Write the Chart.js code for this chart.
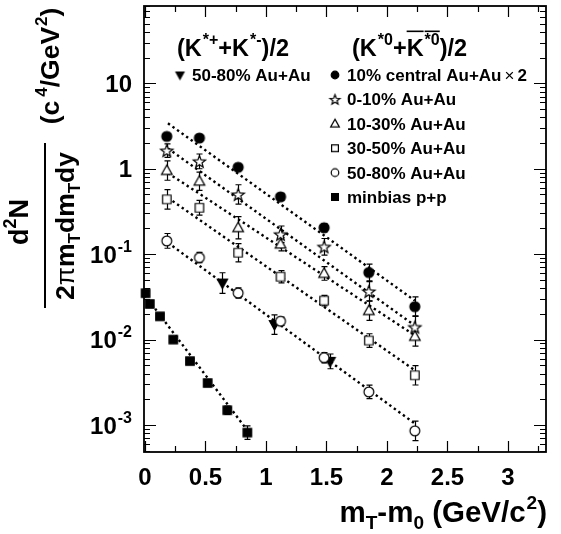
<!DOCTYPE html>
<html>
<head>
<meta charset="utf-8">
<script src="https://cdn.jsdelivr.net/npm/chart.js@4.4.0/dist/chart.umd.min.js"></script>
<style>
  html, body { margin: 0; padding: 0; background: #fff; }
  #wrap { width: 561px; height: 534px; position: relative; }
</style>
</head>
<body>
<div id="wrap"><canvas id="spectra"></canvas></div>
<script>
// m_T - m_0 bins (GeV/c^2) shared by the Au+Au K*0 points
const mtBins = [0.18, 0.45, 0.77, 1.12, 1.48, 1.85, 2.23];
const central2 = [2.39, 2.29, 1.04, 0.469, 0.204, 0.061, 0.0243];
const auau0_10 = [1.63, 1.22, 0.50, 0.171, 0.122, 0.0366, 0.0140];
const auau10_30 = [0.953, 0.715, 0.204, 0.131, 0.0594, 0.0218, 0.0109];
const auau30_50 = [0.438, 0.349, 0.104, 0.0544, 0.0286, 0.00975, 0.00382];
const auau50_80 = [0.143, 0.0912, 0.0351, 0.0164, 0.00614, 0.00244, 0.000855];
// charged K* (50-80%)
const chargedX = [0.64, 1.07, 1.53];
const charged50_80 = [0.0459, 0.0150, 0.00556];
// minbias p+p
const ppX = [0.005, 0.04, 0.124, 0.234, 0.372, 0.518, 0.68, 0.846];
const pp = [0.0349, 0.0261, 0.0187, 0.0100, 0.0056, 0.0031, 0.00149, 0.000815];

// error bars, as factors (bar runs from value/f to value*f)
const errCentral = [1.08, 1.08, 1.08, 1.1, 1.12, 1.25, 1.3];
const err0_10 = [1.2, 1.22, 1.3, 1.25, 1.25, 1.3, 1.35];
const err10_30 = [1.3, 1.28, 1.35, 1.2, 1.2, 1.3, 1.3];
const err30_50 = [1.3, 1.22, 1.28, 1.18, 1.15, 1.2, 1.3];
const err50_80 = [1.22, 1.15, 1.15, 1.12, 1.15, 1.2, 1.3];
const errCharged = [1.32, 1.3, 1.22];
const errPP = [1.06, 1.06, 1.06, 1.06, 1.06, 1.08, 1.12, 1.2];

// exponential fits (end points)
const fitX = [0.19, 2.23];
const fitCentral2 = [3.4, 0.0286];
const fit0_10 = [1.73, 0.0146];
const fit10_30 = [0.89, 0.0112];
const fit30_50 = [0.457, 0.00437];
const fit50_80 = [0.136, 0.00104];
const ppFitX = [0, 0.85];
const ppFit = [0.033, 0.00085];

const xTicks = [0, 0.5, 1, 1.5, 2, 2.5, 3];
const xTickLabels = ['0', '0.5', '1', '1.5', '2', '2.5', '3'];
const yTicks = [1e-3, 1e-2, 1e-1, 1, 10];
const yTickLabels = [['10', '-3'], ['10', '-2'], ['10', '-1'], ['1', ''], ['10', '']];

const FAM = '"Liberation Sans", Arial, Helvetica, sans-serif';

function marker(kind, r) {
  const s = Math.ceil(r * 2 + 4);
  const c = document.createElement('canvas');
  c.width = s; c.height = s;
  const g = c.getContext('2d');
  const m = s / 2;
  const filled = kind[0] === 'f';
  const shape = filled ? kind.slice(1) : kind;
  g.lineWidth = 1.2;
  g.strokeStyle = '#000';
  g.beginPath();
  if (shape === 'circle') {
    g.arc(m, m, r, 0, Math.PI * 2);
  } else if (shape === 'square') {
    g.rect(m - r * 0.85, m - r * 0.85, r * 1.7, r * 1.7);
  } else if (shape === 'tri') {
    g.moveTo(m, m - r);
    g.lineTo(m + r * 0.95, m + r * 0.7);
    g.lineTo(m - r * 0.95, m + r * 0.7);
    g.closePath();
  } else if (shape === 'tridown') {
    g.moveTo(m, m + r);
    g.lineTo(m + r * 0.95, m - r * 0.7);
    g.lineTo(m - r * 0.95, m - r * 0.7);
    g.closePath();
  } else if (shape === 'star') {
    for (let i = 0; i < 10; i++) {
      const a = -Math.PI / 2 + i * Math.PI / 5;
      const rr = i % 2 ? r * 0.42 : r;
      const px = m + rr * Math.cos(a), py = m + rr * Math.sin(a) + r * 0.1;
      if (i) g.lineTo(px, py); else g.moveTo(px, py);
    }
    g.closePath();
  }
  g.fillStyle = filled ? '#000' : '#fff';
  g.fill();
  g.stroke();
  return c;
}

function fontFor(mode, size) {
  if (mode === 'thin') return `${size}px ${FAM}`;
  const sz = (mode === 'sup' || mode === 'sub') ? Math.round(size * 0.66) : size;
  return `bold ${sz}px ${FAM}`;
}

function richWidth(ctx, parts, size) {
  let w = 0;
  for (const p of parts) {
    ctx.font = fontFor(p[1], size);
    w += ctx.measureText(p[0]).width + (p[2] || 0);
  }
  return w;
}

function drawRich(ctx, parts, x, y, size, align) {
  const w = richWidth(ctx, parts, size);
  let cx = align === 'right' ? x - w : align === 'center' ? x - w / 2 : x;
  ctx.textAlign = 'left';
  ctx.textBaseline = 'alphabetic';
  for (const p of parts) {
    const [t, mode, gap, over] = p;
    ctx.font = fontFor(mode, size);
    cx += gap || 0;
    const dy = mode === 'sup' ? -0.45 * size : mode === 'sub' ? 0.24 * size : 0;
    ctx.fillText(t, cx, y + dy);
    const tw = ctx.measureText(t).width;
    if (over) {
      ctx.save();
      ctx.lineWidth = 1.6;
      ctx.beginPath();
      ctx.moveTo(cx, y - size * 1.05);
      ctx.lineTo(cx + tw, y - size * 1.05);
      ctx.stroke();
      ctx.restore();
    }
    cx += tw;
  }
}

const mk = {
  central: marker('fcircle', 5),
  star: marker('star', 6.4),
  tri: marker('tri', 5.6),
  square: marker('square', 5),
  circle: marker('circle', 4.9),
  tridown: marker('ftridown', 5.4),
  pp: marker('fsquare', 5)
};
const lg = {
  central: marker('fcircle', 3.8),
  star: marker('star', 5.2),
  tri: marker('tri', 4.6),
  square: marker('square', 4),
  circle: marker('circle', 3.8),
  tridown: marker('ftridown', 4.2),
  pp: marker('fsquare', 4)
};

function points(xs, ys, img, err) {
  return {
    data: xs.map((x, i) => ({ x: x, y: ys[i] })),
    showLine: false,
    pointStyle: img,
    pointRadius: 5,
    order: 0,
    clip: false,
    err: err
  };
}
function fit(xs, ys) {
  return {
    data: xs.map((x, i) => ({ x: x, y: ys[i] })),
    showLine: true,
    borderColor: '#000',
    borderWidth: 2.4,
    borderDash: [2.4, 3.2],
    pointRadius: 0,
    order: 5
  };
}

const errorBars = {
  id: 'errorBars',
  beforeDatasetsDraw(chart) {
    const ctx = chart.ctx, xs = chart.scales.x, ys = chart.scales.y;
    ctx.save();
    ctx.strokeStyle = '#000';
    ctx.lineWidth = 1.2;
    chart.data.datasets.forEach(ds => {
      if (!ds.err) return;
      ds.data.forEach((p, i) => {
        const px = Math.round(xs.getPixelForValue(p.x)) + 0.5;
        const hi = ys.getPixelForValue(p.y * ds.err[i]);
        const lo = ys.getPixelForValue(p.y / ds.err[i]);
        ctx.beginPath();
        ctx.moveTo(px, hi); ctx.lineTo(px, lo);
        ctx.moveTo(px - 3, hi); ctx.lineTo(px + 3, hi);
        ctx.moveTo(px - 3, lo); ctx.lineTo(px + 3, lo);
        ctx.stroke();
      });
    });
    ctx.restore();
  }
};

const frame = {
  id: 'frame',
  afterDraw(chart) {
    const ctx = chart.ctx, a = chart.chartArea;
    const xs = chart.scales.x, ys = chart.scales.y;
    ctx.save();
    ctx.strokeStyle = '#000';
    ctx.fillStyle = '#000';
    ctx.lineWidth = 1.8;
    ctx.strokeRect(a.left, a.top, a.right - a.left, a.bottom - a.top);

    // x ticks, bottom and top
    ctx.lineWidth = 1.2;
    ctx.beginPath();
    for (let v = 0; v <= 3.3; v += 0.25) {
      const px = Math.round(xs.getPixelForValue(v)) + 0.5;
      const len = Math.abs(v * 2 - Math.round(v * 2)) < 1e-6 ? 11 : 6;
      ctx.moveTo(px, a.bottom); ctx.lineTo(px, a.bottom - len);
      ctx.moveTo(px, a.top); ctx.lineTo(px, a.top + len);
    }
    // y ticks, left and right
    for (let e = -4; e <= 2; e++) {
      for (let k = 1; k <= 9; k++) {
        const v = k * Math.pow(10, e);
        if (v < ys.min || v > ys.max) continue;
        const py = Math.round(ys.getPixelForValue(v)) + 0.5;
        const len = k === 1 ? 12 : 6;
        ctx.moveTo(a.left, py); ctx.lineTo(a.left + len, py);
        ctx.moveTo(a.right, py); ctx.lineTo(a.right - len, py);
      }
    }
    ctx.stroke();

    // tick labels
    xTicks.forEach((v, i) => {
      drawRich(ctx, [[xTickLabels[i]]], xs.getPixelForValue(v), 485, 24, 'center');
    });
    yTicks.forEach((v, i) => {
      const [b, ex] = yTickLabels[i];
      const parts = ex ? [[b], [ex, 'sup', 1]] : [[b]];
      drawRich(ctx, parts, 132, ys.getPixelForValue(v) + 8.5, 24, 'right');
    });

    // x title
    drawRich(ctx, [['m'], ['T', 'sub'], ['-m'], ['0', 'sub'], [' (GeV/c'], ['2', 'sup', 1], [')']],
      547, 522, 29.5, 'right');

    // y title (rotated)
    ctx.save();
    ctx.translate(28, 222);
    ctx.rotate(-Math.PI / 2);
    drawRich(ctx, [['d'], ['2', 'sup'], ['N']], 0, 0, 27, 'center');
    ctx.restore();
    ctx.save();
    ctx.translate(74, 226);
    ctx.rotate(-Math.PI / 2);
    drawRich(ctx, [['2'], ['\u03c0', 'thin'], ['m'], ['T', 'sub'], ['dm'], ['T', 'sub'], ['dy']], 0, 0, 26.5, 'center');
    ctx.restore();
    ctx.save();
    ctx.translate(59, 66);
    ctx.rotate(-Math.PI / 2);
    drawRich(ctx, [['(c'], ['4', 'sup', 4], ['/GeV'], ['2', 'sup', 1], [')']], 0, 0, 26.5, 'center');
    ctx.restore();
    ctx.lineWidth = 2;
    ctx.beginPath();
    ctx.moveTo(45, 143); ctx.lineTo(45, 308);
    ctx.stroke();

    // legend headers
    drawRich(ctx, [['(K'], ['*+', 'sup', 1], ['+K'], ['*-', 'sup', 1], [')/2']], 177, 56, 23.5, 'left');
    drawRich(ctx, [['(K'], ['*0', 'sup', 1], ['+'], ['K', null, 0, true], ['*0', 'sup', 1, true], [')/2']],
      352, 56, 23.5, 'left');

    // legend entries
    ctx.drawImage(lg.tridown, 180 - lg.tridown.width / 2, 75 - lg.tridown.height / 2);
    drawRich(ctx, [['50-80% Au+Au']], 192, 81, 17, 'left');
    const rows = [
      [lg.central, [['10% central Au+Au'], ['\u00d7', 'thin', 3], ['2', null, 3]]],
      [lg.star, [['0-10% Au+Au']]],
      [lg.tri, [['10-30% Au+Au']]],
      [lg.square, [['30-50% Au+Au']]],
      [lg.circle, [['50-80% Au+Au']]],
      [lg.pp, [['minbias p+p']]]
    ];
    rows.forEach((r, i) => {
      const cy = 75 + i * 24.4;
      ctx.drawImage(r[0], 335 - r[0].width / 2, cy - r[0].height / 2);
      drawRich(ctx, r[1], 347, cy + 6, 17, 'left');
    });
    ctx.restore();
  }
};

new Chart(document.getElementById('spectra').getContext('2d'), {
  type: 'scatter',
  data: {
    datasets: [
      points(mtBins, central2, mk.central, errCentral),
      points(mtBins, auau0_10, mk.star, err0_10),
      points(mtBins, auau10_30, mk.tri, err10_30),
      points(mtBins, auau30_50, mk.square, err30_50),
      points(mtBins, auau50_80, mk.circle, err50_80),
      points(chargedX, charged50_80, mk.tridown, errCharged),
      points(ppX, pp, mk.pp, errPP),
      fit(fitX, fitCentral2),
      fit(fitX, fit0_10),
      fit(fitX, fit10_30),
      fit(fitX, fit30_50),
      fit(fitX, fit50_80),
      fit(ppFitX, ppFit)
    ]
  },
  options: {
    responsive: true,
    maintainAspectRatio: false,
    animation: false,
    devicePixelRatio: 1,
    layout: { padding: { left: 144, right: 15, top: 4, bottom: 82 } },
    plugins: { legend: { display: false }, tooltip: { enabled: false } },
    scales: {
      x: { type: 'linear', min: -0.008, max: 3.314, display: false },
      y: { type: 'logarithmic', min: 4.83e-4, max: 80.4, display: false }
    }
  },
  plugins: [errorBars, frame]
});
</script>
</body>
</html>
